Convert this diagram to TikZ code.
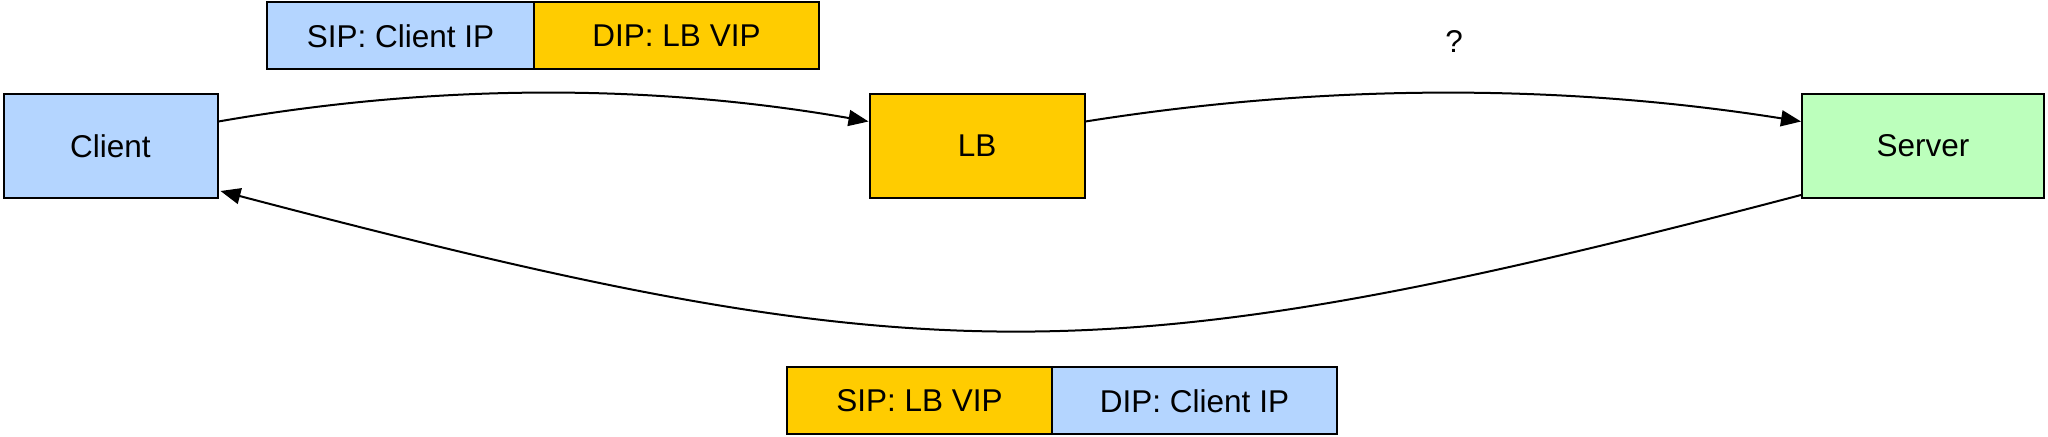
\documentclass[tikz,border=0pt]{standalone}
\usepackage{fontspec}
\setmainfont{Liberation Sans}
\usetikzlibrary{arrows.meta,calc}
\definecolor{cblue}{RGB}{180,213,255}
\definecolor{cyellow}{RGB}{255,204,0}
\definecolor{cgreen}{RGB}{188,255,188}
\begin{document}
\begin{tikzpicture}[x=0.5pt,y=-0.5pt,
  box/.style={draw=black,line width=1pt,inner sep=0pt,font=\fontsize{15.75}{19}\selectfont},
  bigbox/.style={box,minimum height=52pt},
  tag/.style={box,minimum height=33.5pt},
  conn/.style={line width=1pt,-{Triangle[length=10pt,width=8pt]}}]
\useasboundingbox (0,0) rectangle (2048,437);
\node[bigbox,fill=cblue,minimum width=107pt] (client) at (110.5,146) {Client};
\node[bigbox,fill=cyellow,minimum width=107.5pt] (lb) at (977,146) {LB};
\node[bigbox,fill=cgreen,minimum width=121pt] (server) at (1923,146) {Server};
\node[tag,fill=cblue,minimum width=133.5pt] (sipA) at (400.5,36) {SIP: Client IP};
\node[tag,fill=cyellow,minimum width=142.5pt] (dipA) at (676.5,36) {DIP: LB VIP};
\node[tag,fill=cyellow,minimum width=132.5pt] (sipB) at (919.5,401) {SIP: LB VIP};
\node[tag,fill=cblue,minimum width=142.5pt] (dipB) at (1194.5,401) {DIP: Client IP};
\node[font=\fontsize{15.75}{19}\selectfont] (q) at (1454,42) {?};
\draw[conn] ($(client.east)+(0,-24.5)$) .. controls +(217,-38) and +(-217,-38) .. ($(lb.west)+(0,-24.5)$);
\draw[conn] ($(lb.east)+(0,-24.5)$) .. controls +(239,-38) and +(-239,-38) .. ($(server.west)+(0,-24.5)$);
\draw[conn] ($(server.west)+(0,49)$) .. controls +(-700,184) and +(700,184) .. ($(client.east)+(2,45)$);
\end{tikzpicture}
\end{document}
